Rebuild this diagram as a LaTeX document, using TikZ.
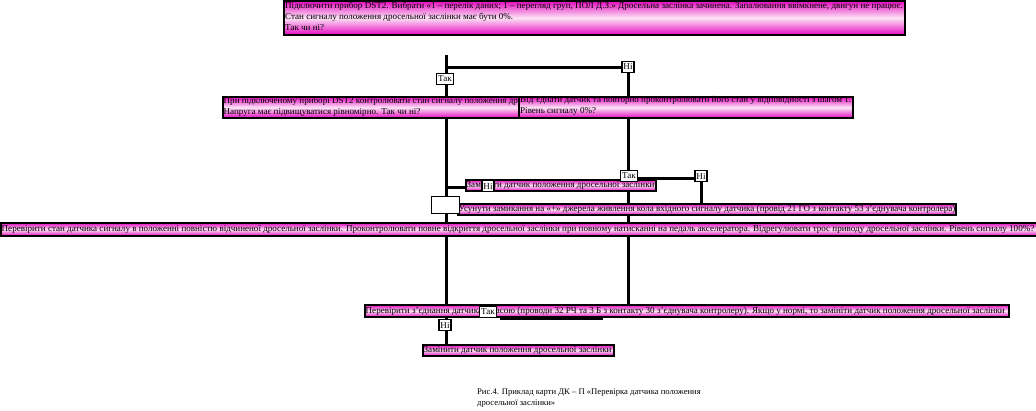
\documentclass[tikz,border=0pt]{standalone}
\usepackage{fontspec}
\setmainfont{Liberation Serif}
\definecolor{mag}{RGB}{228,10,190}
\definecolor{pinkmid}{RGB}{252,228,246}
\newcommand\dfont{\fontsize{9.05}{11}\selectfont}
\begin{document}
\begin{tikzpicture}[x=1pt,y=-1pt,
  box/.style={draw=black, line width=1.8pt, top color=mag, bottom color=mag, middle color=pinkmid, inner sep=0pt, anchor=north west},
  txt/.style={inner sep=0pt, font=\dfont, align=left},
  lab/.style={draw=black, fill=white, line width=1.3pt, inner xsep=1.5pt, inner ysep=2.2pt, font=\dfont},
  wbox/.style={draw=black, fill=white, line width=1.2pt, inner sep=0pt, anchor=north west},
  conn/.style={line width=3pt}]
\useasboundingbox (0,0) rectangle (1036,410);

% anchors for connectors
\coordinate (start) at (446,55);
\coordinate (ulA) at (500,318);
\coordinate (ulB) at (603,318);

% box corners
\path (283,0) coordinate (topNW) (222,96) coordinate (b2NW) (518,96) coordinate (b3NW)
      (465,179) coordinate (z1NW) (457,203) coordinate (usNW) (0,222) coordinate (bigNW)
      (364,304) coordinate (pvNW) (422,344) coordinate (z2NW);

% label positions
\path (445,79) coordinate (tak1c) (628,67) coordinate (ni1c) (629,176) coordinate (tak2c)
      (701,176) coordinate (ni2c) (488,186) coordinate (ni3c) (488,312) coordinate (tak3c)
      (445,325) coordinate (ni4c);

% connectors
\draw[conn] (start) -- (start |- z2NW);
\draw[conn] (start |- ni1c) -- (ni1c);
\draw[conn] (ni1c) -- (ni1c |- pvNW);
\draw[conn] (tak2c |- 0,178) -- (ni2c |- 0,178);
\draw[conn] (ni2c) -- (ni2c |- usNW);
\draw[conn] (start |- 0,187) -- (z1NW |- 0,187);
\draw[conn] (ulA) -- (ulB);

% boxes
\node[box, minimum width=621pt, minimum height=34pt] (top) at (topNW) {};
\node[txt, anchor=north west] (toptxt) at (285,1.5) {Підключити прибор DST2. Вибрати «1 – перелік даних; 1 – перегляд груп, ПОЛ Д.З.» Дросельна заслінка зачинена. Запалювання ввімкнене, двигун не працює.\\Стан сигналу положення дросельної заслінки має бути 0\%.\\Так чи ні?};

\node[box, minimum width=297pt, minimum height=21pt] (b2) at (b2NW) {};
\node[txt, anchor=north west] (b2txt) at (223.5,96.5) {При підключеному приборі DST2 контролювати стан сигналу положення др\\Напруга має підвищуватися рівномірно. Так чи ні?};
\node[box, minimum width=334pt, minimum height=21pt] (b3) at (b3NW) {};
\node[txt, anchor=north west] (b3txt) at (520,96.5) {Від'єднати датчик та повторно проконтролювати його стан у відповідності з шагом 1.\\Рівень сигналу 0\%?};

\node[box, minimum width=190pt, minimum height=11pt] (z1) at (z1NW) {};
\node[txt, anchor=west] (z1txt) at ([xshift=1.5pt]z1.west) {Замінити датчик положення дросельної заслінки};

\node[box, minimum width=498pt, minimum height=11pt] (us) at (usNW) {};
\node[txt, anchor=west] (ustxt) at ([xshift=1.5pt]us.west) {Усунути замикання на «+» джерела живлення кола вхідного сигналу датчика (провід 21 ГО з контакту 53 з'єднувача контролера)};
\node[wbox, minimum width=28pt, minimum height=17pt] (wb) at (431,196) {};

\node[box, minimum width=1036pt, minimum height=13pt] (big) at (bigNW) {};
\node[txt, anchor=west] (bigtxt) at ([xshift=1.5pt]big.west) {Перевірити стан датчика сигналу в положенні повністю відчиненої дросельної заслінки. Проконтролювати повне відкриття дросельної заслінки при повному натисканні на педаль акселератора. Відрегулювати трос приводу дросельної заслінки. Рівень сигналу 100\%?};

\node[box, minimum width=644pt, minimum height=12pt] (pv) at (pvNW) {};
\node[txt, anchor=west] (pvtxt) at ([xshift=1.5pt]pv.west) {Перевірити з'єднання датчика з масою (проводи 32 РЧ та 3 Б з контакту 30 з'єднувача контролеру). Якщо у нормі, то замініти датчик положення дросельної заслінки};

\node[box, minimum width=191pt, minimum height=11pt] (z2) at (z2NW) {};
\node[txt, anchor=west] (z2txt) at ([xshift=1.5pt]z2.west) {Замінити датчик положення дросельної заслінки};

% labels
\node[lab] (tak1) at (tak1c) {Так};
\node[lab] (ni1) at (ni1c) {Ні};
\node[lab] (tak2) at (tak2c) {Так};
\node[lab] (ni2) at (ni2c) {Ні};
\node[lab] (ni3) at (ni3c) {Ні};
\node[lab] (tak3) at (tak3c) {Так};
\node[lab] (ni4) at (ni4c) {Ні};

% caption
\node[txt, anchor=north west, font=\fontsize{8.6}{10.5}\selectfont] (cap) at (477,389) {Рис.4. Приклад карти ДК – П «Перевірка датчика положення\\дросельної заслінки»};
\end{tikzpicture}
\end{document}
